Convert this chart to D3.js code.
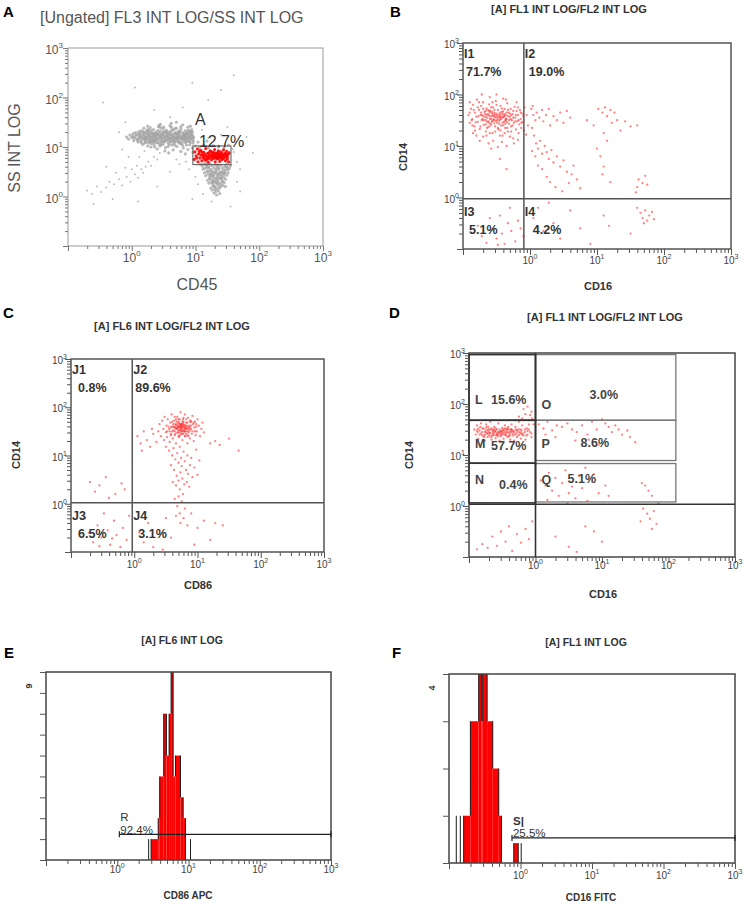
<!DOCTYPE html>
<html><head><meta charset="utf-8">
<script src="https://cdn.jsdelivr.net/npm/d3@7"></script>
<style>body{margin:0;background:#fff}svg{display:block}text{font-family:"Liberation Sans",Arial,Helvetica,sans-serif}</style>
</head><body>
<svg id="chart" width="753" height="907"></svg>
<script>
// ===== DATA (log10 exponents in hundredths: "x,y") =====
const tickExponents = [0, 1, 2, 3];

const aGrayMain = "-8,120 -5,116 -3,124 0,119 2,127 3,113 5,121 6,129 8,116 9,124 10,110 11,131 12,119 13,126 14,112 15,133 16,118 17,105 18,124 19,138 20,115 21,128 22,109 23,121 24,134 25,102 26,117 27,125 28,113 29,139 30,120 31,107 32,129 33,116 34,135 35,123 36,100 37,112 38,130 39,118 40,126 41,108 42,141 43,121 44,114 45,132 46,104 47,125 48,117 49,137 50,110 51,128 52,120 53,99 54,134 55,115 56,123 57,108 58,130 59,118 60,143 61,112 62,126 63,104 64,121 65,135 66,116 67,128 68,110 69,122 70,138 71,101 72,119 73,131 74,113 75,125 76,107 77,136 78,120 79,114 80,129 81,98 82,123 83,117 84,133 85,109 86,126 87,120 88,140 89,112 90,127 91,104 92,118 93,131 94,115 95,124 96,108 97,120 14,121 17,129 20,108 23,116 26,131 29,111 32,122 35,104 38,117 41,133 44,107 47,119 50,131 53,114 56,127 59,105 62,118 65,124 68,137 71,115 74,122 77,109 80,118 83,126 86,113 89,121 92,109 95,130 16,115 19,123 22,130 25,111 28,119 31,126 34,114 37,122 40,113 43,128 46,118 49,124 52,111 55,121 58,116 61,131 64,113 67,120 70,127 73,118 76,130 79,122 82,110 85,119 88,125 91,116 94,121 97,112 24,120 30,115 36,121 42,117 48,112 54,122 60,118 66,111 72,125 78,116 84,122 27,123 33,118 39,124 45,121 51,116 57,119 63,124 69,117 75,119 81,121 87,117 21,118 46,125 58,123 70,120 82,116 35,127 61,110 74,109 90,119 93,124 40,96 52,92 65,94 77,91 88,95 96,89 84,86 58,88 30,100 95,98 25,142 45,146 62,148 80,145 92,142 70,150 1,122 4,118 7,125 9,113 12,128 15,109 18,131 21,113 24,126 27,108 30,133 33,111 36,127 39,109 42,124 45,139 48,106 51,122 54,129 57,113 60,125 63,134 66,107 69,129 72,111 75,132 78,106 81,126 84,113 87,130 90,111 93,126 96,117 11,117 19,119 28,128 37,115 46,111 55,131 64,117 73,127 82,120 91,131 13,122 31,112 49,129 67,113 85,128 26,135 44,102 62,140 80,103 94,135 50,140 35,109 68,103 86,104 57,101 43,143 77,141 89,134";
const aGrayLow = "108,65 111,61 113,66 115,57 117,63 119,52 121,60 123,66 124,55 126,62 128,49 129,58 131,64 133,53 134,60 136,46 137,56 139,63 141,50 142,58 144,44 146,61 147,53 149,66 151,48 153,57 155,62 114,48 116,42 118,50 120,45 122,38 124,47 126,41 127,34 129,44 131,37 132,49 134,40 135,31 137,43 139,36 140,46 142,30 144,39 145,48 147,35 149,43 151,54 119,33 121,27 123,35 125,29 127,24 128,31 130,21 132,28 133,34 135,23 137,27 138,18 140,25 142,32 143,22 145,28 147,20 124,17 126,13 128,20 130,14 132,10 134,16 136,12 138,6 129,7 133,3 120,58 126,52 132,55 138,50 144,54 128,40 136,37 140,41 130,30 125,44 134,45 146,48 100,102 106,99 113,104 120,98 128,103 136,100 145,99 152,104 104,110 118,112 112,55 118,60 123,42 130,48 136,58 141,37 148,58 127,28 134,27 139,20 131,18 122,51 143,48 150,60 116,66 135,64";
const aGraySparse = "-70,12 -62,5 -55,20 -48,9 -40,18 -35,30 -28,25 -20,35 -15,22 -8,40 -2,30 5,45 10,38 15,55 18,48 22,60 26,70 30,62 35,80 40,75 44,88 8,62 0,55 -10,58 -25,48 12,80 20,92 -5,80 -30,-5 -60,-15 10,-10 40,20 60,50 75,65 90,55 100,40 104,25 112,5 160,90 165,70 170,55 158,96 175,105 180,120 190,88 120,118 140,125 110,135 150,140 60,160 80,180 35,175 -10,150 5,220 95,230 160,245 140,215 120,195 -45,190 -20,130 165,30 170,10 125,-10 155,-20 95,-5 50,105 -15,95 70,75 85,70 -40,60";
const aRedGate = "98,75 99,90 101,82 103,96 104,70 105,86 107,78 108,93 110,72 111,84 113,89 114,76 116,97 117,81 119,87 120,69 122,79 123,92 125,74 126,84 127,89 128,77 130,95 131,70 132,82 133,87 134,76 136,92 137,80 138,71 139,85 140,90 141,75 143,83 144,94 145,78 146,87 147,72 148,81 149,91 150,76 151,85 152,70 153,88 102,78 106,91 109,84 112,79 115,85 118,76 121,88 124,82 126,79 128,86 129,81 130,88 131,78 132,84 133,80 134,85 135,82 136,77 137,86 138,83 139,79 140,82 141,87 142,80 143,76 145,84 127,83 125,90 122,84 119,80 116,73 113,82 110,90 148,85 150,80 135,89 120,76";
const aGate = {x0: 9.1, x1: 36, y0: 4.4, y1: 10.5, name: "A", pct: "12.7%"};

const bRed = "-92,160 -90,145 -88,172 -86,152 -85,180 -83,138 -82,165 -80,157 -79,190 -78,147 -76,170 -75,133 -74,160 -73,178 -72,150 -70,185 -69,141 -68,166 -67,156 -66,128 -65,173 -64,147 -63,162 -62,137 -61,181 -60,153 -59,168 -58,143 -57,158 -56,125 -55,175 -54,150 -53,164 -52,138 -51,187 -50,156 -49,145 -48,170 -47,132 -46,161 -45,151 -44,178 -43,140 -42,166 -41,120 -40,155 -39,147 -38,172 -37,135 -36,160 -35,152 -34,183 -33,128 -32,165 -31,143 -30,157 -29,172 -28,138 -27,150 -26,162 -25,115 -24,145 -23,176 -22,155 -21,132 -20,168 -19,148 -18,160 -17,125 -16,142 -15,170 -14,152 -13,135 -12,163 -11,147 -10,158 -70,158 -66,150 -62,160 -58,152 -54,158 -50,163 -46,148 -42,156 -38,162 -34,146 -64,155 -60,165 -56,149 -52,156 -48,153 -44,161 -40,167 -36,153 -57,163 -53,144 -49,160 -45,165 -41,145 -37,150 -33,158 -61,145 -67,162 -71,152 -63,170 -59,140 -55,160 -51,149 -47,157 -43,152 -39,158 -35,165 -31,150 -28,160 -25,155 -22,148 -80,120 -75,110 -70,118 -62,105 -55,110 -48,98 -42,108 -35,100 -30,118 -24,105 -18,112 -58,95 -45,120 -38,125 -52,128 -65,120 -85,125 -72,200 -60,195 -50,200 -40,192 -20,185 -8,175 -5,160 -3,140 -6,122 -9,130 -45,75 -35,55 -90,165 -87,150 -84,170 -81,146 -77,158 -73,165 -69,150 -65,160 -61,168 -57,147 -53,170 -49,150 -45,157 -41,162 -37,143 -33,170 -29,152 -25,168 -21,160 -17,150 -13,145 -78,175 -74,138 -66,142 -58,175 -50,180 -42,173 -34,135 -26,140 -18,175 -86,140 -62,148 -54,152 -46,143 -38,158 -30,163 -70,172 -82,130 -60,125 -44,130 -28,128 -14,165 -90,185 -76,185 -56,185 -36,190 -64,135 -48,135 -40,140 -52,161 -56,166 -44,155 -36,148 -60,158 -66,168 -72,160 2,172 5,160 8,150 4,178 10,165 14,155 18,170 20,148 24,160 28,172 30,140 35,158 40,150 45,165 50,145 55,168 60,155 3,135 6,120 9,105 12,95 15,110 18,85 22,100 25,88 28,75 32,92 35,68 40,80 45,60 50,72 55,50 3,90 8,80 12,62 18,55 25,40 30,30 38,20 48,12 58,28 62,45 65,62 70,35 75,18 85,150 95,140 102,172 108,165 112,175 115,158 120,170 122,145 126,165 130,150 135,130 142,148 150,138 160,140 110,125 115,110 100,95 105,80 110,60 108,45 120,30 160,20 162,35 168,28 172,42 158,10 175,25 -85,-30 -78,-55 -72,-75 -65,-88 -60,-40 -55,-62 -50,-80 -45,-35 -42,-70 -38,-90 -33,-50 -28,-65 -22,-85 -18,-45 -14,-60 -10,-75 -48,-92 -30,-20 5,-40 12,-20 20,-65 28,-10 35,-50 45,-80 60,-25 75,-60 90,-90 110,-35 118,-55 150,-70 165,-30 168,-40 172,-25 175,-45 178,-35 182,-28 170,-50 185,-42 160,-20";
const bGate = {x: 0.81, y: 0.95};
const bQuadNames = ["I1", "I2", "I3", "I4"];
const bQuadPct = ["71.7%", "19.0%", "5.1%", "4.2%"];

const cRed = "38,150 40,165 42,140 44,172 46,155 47,132 48,180 50,148 51,162 52,138 53,175 55,155 56,128 57,168 58,145 59,185 60,160 61,135 62,152 63,172 64,142 65,165 66,125 67,157 68,180 69,147 70,170 71,138 72,160 73,190 74,152 75,165 76,132 77,175 78,145 79,160 80,185 81,140 82,168 83,155 84,125 85,178 86,148 87,162 88,135 89,172 90,155 91,145 92,182 93,165 94,130 95,158 96,170 97,142 98,160 99,150 100,175 102,162 104,140 106,155 108,168 110,148 60,150 63,158 66,162 68,155 70,160 72,148 74,165 76,158 78,152 80,163 82,150 84,157 86,160 88,152 65,145 67,170 69,158 71,152 73,162 75,155 77,160 79,150 81,155 83,162 85,150 70,140 72,175 76,145 78,170 80,140 82,175 74,158 73,155 75,150 77,166 71,167 62,165 58,158 56,150 90,162 92,150 94,168 64,180 86,140 88,170 62,160 66,155 68,165 70,152 72,158 74,162 76,150 78,164 80,158 82,145 84,168 86,155 68,148 72,142 76,170 80,150 64,150 88,158 90,170 60,170 58,142 96,150 98,165 54,160 52,150 66,175 78,178 84,142 74,145 70,175 82,160 76,162 72,165 79,155 65,158 69,162 50,118 55,110 60,100 62,115 65,92 68,105 70,85 72,118 74,95 75,78 78,108 80,88 82,70 84,100 85,62 88,80 90,95 92,55 95,75 98,112 100,60 103,90 58,80 63,70 67,58 70,48 73,65 76,52 79,40 83,45 87,35 61,45 66,38 72,30 77,20 64,10 68,-5 70,15 72,-20 75,5 78,-30 80,-10 84,-45 73,-40 66,-25 5,140 10,125 15,150 20,132 25,118 30,145 35,128 12,110 28,155 -70,45 -55,38 -45,55 -30,20 -20,42 -62,25 -40,12 -15,30 120,125 128,130 135,122 150,135 165,110 -78,-30 -72,-60 -65,-80 -58,-45 -52,-70 -48,-20 -42,-55 -38,-85 -32,-35 -28,-65 -22,-90 -18,-50 -12,-75 -8,-25 -55,-88 -35,-72 8,-60 15,-80 22,-40 30,-90 40,-55 50,-30 58,-70 90,-20 100,-50 110,-35 120,-75 128,-40 140,-45 95,-85 45,-95";
const cGate = {x: 0.93, y: 1.05};
const cQuadNames = ["J1", "J2", "J3", "J4"];
const cQuadPct = ["0.8%", "89.6%", "6.5%", "3.1%"];

const dRed = "-92,150 -90,140 -88,158 -86,132 -84,148 -82,162 -80,138 -78,152 -76,128 -75,145 -74,160 -72,135 -70,150 -69,142 -68,165 -66,130 -65,148 -64,138 -62,155 -61,145 -60,133 -58,150 -57,140 -56,162 -54,128 -53,146 -52,137 -50,153 -49,143 -48,132 -46,158 -45,140 -44,148 -42,135 -41,155 -40,144 -38,130 -37,150 -36,160 -34,138 -33,147 -32,128 -30,155 -29,142 -28,135 -26,150 -25,165 -24,140 -22,132 -21,148 -20,158 -18,138 -16,145 -15,130 -13,152 -12,140 -10,160 -8,145 -6,135 -5,172 -80,145 -76,140 -72,148 -68,143 -66,152 -64,145 -62,140 -60,147 -58,143 -56,137 -54,150 -52,145 -50,140 -48,148 -46,145 -44,138 -42,145 -40,150 -38,141 -36,145 -70,138 -74,150 -67,135 -63,150 -59,138 -55,145 -51,148 -47,140 -43,152 -39,137 -35,148 -31,140 -27,145 -23,150 -19,142 -73,143 -71,155 -77,135 -83,155 -87,145 -20,172 -15,180 -10,168 -6,185 -8,178 -25,175 -18,190 -12,195 -30,168 -3,160 -88,148 -84,140 -80,152 -76,146 -72,141 -68,150 -64,142 -60,152 -56,145 -52,140 -48,150 -44,143 -40,138 -36,150 -32,145 -28,148 -24,145 -20,140 -16,150 -12,147 -78,138 -70,145 -62,148 -54,142 -46,152 -38,146 -30,150 -22,143 -14,138 -66,138 -58,140 -50,146 -42,150 -34,142 -26,138 -74,155 -82,142 -86,152 -10,150 -6,142 5,160 12,152 18,165 25,148 32,158 40,155 48,162 55,150 62,145 70,158 78,140 85,165 92,150 100,170 105,162 110,155 115,145 120,158 125,150 130,140 138,148 142,135 150,125 95,120 80,130 60,128 30,135 15,140 8,50 15,40 20,65 25,30 30,55 35,20 40,45 45,70 50,25 55,38 60,15 65,60 70,35 78,10 85,48 95,25 105,40 110,20 75,75 88,62 48,5 18,12 160,45 165,40 170,30 175,20 162,-5 168,-15 172,-25 178,-10 182,-35 175,-45 158,-30 185,5 -88,-85 -80,-75 -72,-82 -65,-60 -58,-78 -52,-50 -45,-70 -40,-40 -35,-88 -28,-55 -22,-72 -15,-45 -10,-65 -5,-30 30,-60 50,-80 62,-90 88,-50 100,-70 75,-40";
const dSplitX = 1, dRightX = 129, dTopY = 930, dFullY = 1.08;
const dLeftRows = [[48, 930], [6.9, 48], [1.15, 6.9]];
const dRightRows = [[48, 930], [7.8, 48], [1.2, 6.8]];
const dNames = ["L", "M", "N", "O", "P", "Q"];
const dPct = ["15.6%", "57.7%", "0.4%", "3.0%", "8.6%", "5.1%"];

const eBinEdges = [0.475, 0.575, 0.596, 0.652, 0.69, 0.728, 0.756, 0.784, 0.817, 0.887, 0.925, 0.958];
const eCounts = [1, 2, 4, 7, 5, 7, 9, 4, 5, 3, 2];
const eSpikes = [[0.441, 1], [1.028, 1]];
const eGate = {x0: 1.07, x1: 1000, level: 1.23, name: "R", pct: "92.4%"};

const fBinEdges = [-0.795, -0.701, -0.585, -0.547, -0.529, -0.467, -0.388, -0.304, -0.266];
const fCounts = [1, 3, 4, 3, 4, 3, 2, 1];
const fExtraBins = [[-0.094, -0.032, 0.42]];
const fSpikes = [[-0.898, 1], [-0.842, 1], [0.01, 0.42]];
const fGate = {x0: 0.76, x1: 1000, level: 0.53, name: "S|", pct: "25.5%"};

// ===== DRAWING =====
const svg = d3.select("#chart");
const pts = s => s.trim().split(/\s+/).map(p => { const a = p.split(","); return [Math.pow(10, +a[0] / 100), Math.pow(10, +a[1] / 100)]; });
function logTickValues() { const t = []; for (let k = -1; k < 3; k++) for (let m = 1; m < 10; m++) t.push(m * Math.pow(10, k)); t.push(1000); return t; }
const isMajor = v => Math.abs(Math.log10(v) - Math.round(Math.log10(v))) < 1e-6;

function supLabel(g, x, y, e, st, anchor) {
  const t = g.append("text").attr("x", x).attr("y", y).attr("text-anchor", anchor)
    .attr("font-size", st.fs).attr("fill", st.color).attr("font-weight", st.fw || "normal");
  t.append("tspan").text("10");
  t.append("tspan").attr("font-size", st.sup).attr("dy", -st.raise).text(e);
}
function bottomLogAxis(g, x, yPos, st) {
  const ax = g.append("g").attr("transform", `translate(0,${yPos})`)
    .call(d3.axisBottom(x).tickValues(logTickValues()).tickFormat("").tickSizeOuter(0));
  ax.select(".domain").remove(); ax.selectAll(".tick text").remove();
  ax.selectAll(".tick line").attr("y2", d => isMajor(d) ? st.major : st.minor).attr("stroke", st.tick).attr("stroke-width", st.tw);
  tickExponents.forEach(e => supLabel(g, x(Math.pow(10, e)) + (st.dx || 0), yPos + st.ly, e, st, "middle"));
}
function leftLogAxis(g, y, xPos, st) {
  const ax = g.append("g").attr("transform", `translate(${xPos},0)`)
    .call(d3.axisLeft(y).tickValues(logTickValues()).tickFormat("").tickSizeOuter(0));
  ax.select(".domain").remove(); ax.selectAll(".tick text").remove();
  ax.selectAll(".tick line").attr("x2", d => isMajor(d) ? -st.major : -st.minor).attr("stroke", st.tick).attr("stroke-width", st.tw);
  tickExponents.forEach(e => supLabel(g, xPos - st.lx, y(Math.pow(10, e)) + st.ly, e, st, "end"));
}
function txt(g, x, y, s, o) {
  const t = g.append("text").attr("x", x).attr("y", y).text(s)
    .attr("font-size", o.fs).attr("fill", o.color || "#222").attr("font-weight", o.fw || "normal")
    .attr("text-anchor", o.anchor || "start");
  if (o.rot) t.attr("transform", `rotate(-90,${x},${y})`);
  return t;
}
function dots(g, x, y, data, r, color, op) {
  g.append("g").selectAll("circle").data(data).join("circle")
    .attr("cx", d => x(d[0])).attr("cy", d => y(d[1])).attr("r", r).attr("fill", color).attr("fill-opacity", op);
}
function frame(g, L, color, w) {
  g.append("rect").attr("x", L.x0).attr("y", L.y0).attr("width", L.x1 - L.x0).attr("height", L.y1 - L.y0)
    .attr("fill", "none").attr("stroke", color).attr("stroke-width", w);
}
function scatterScales(L) {
  return [d3.scaleLog().domain([0.1, 1000]).range([L.x0, L.x1]), d3.scaleLog().domain([0.1, 1000]).range([L.y1, L.y0])];
}
const axSt = {fs: 10, sup: 7, raise: 5, color: "#444", tick: "#555", tw: 1, major: 6, minor: 4, lx: 4, ly: 5, fw: "normal"};

// ---------- Panel A ----------
(function () {
  const L = {x0: 68, x1: 323, y0: 48, y1: 246};
  const g = svg.append("g"); const [x, y] = scatterScales(L);
  dots(g, x, y, pts(aGraySparse), 1.0, "#a0a0a0", 0.7);
  dots(g, x, y, pts(aGrayMain), 1.6, "#a3a3a3", 0.75);
  dots(g, x, y, pts(aGrayLow), 1.6, "#a3a3a3", 0.75);
  dots(g, x, y, pts(aRedGate), 1.6, "#ff0000", 0.9);
  frame(g, L, "#999", 1);
  g.append("rect").attr("x", x(aGate.x0)).attr("y", y(aGate.y1)).attr("width", x(aGate.x1) - x(aGate.x0))
    .attr("height", y(aGate.y0) - y(aGate.y1)).attr("fill", "none").attr("stroke", "#555").attr("stroke-width", 1);
  txt(g, x(aGate.x0) + 2, y(aGate.y1) - 21, aGate.name, {fs: 16, color: "#333"});
  txt(g, x(aGate.x0) + 6, y(aGate.y1) + 1, aGate.pct, {fs: 16, color: "#333"});
  const st = {fs: 12, sup: 8, raise: 6, color: "#555", tick: "#777", tw: 1, major: 5, minor: 3, lx: 5, ly: 6};
  bottomLogAxis(g, x, L.y1, Object.assign({}, st, {ly: 16}));
  leftLogAxis(g, y, L.x0, st);
  txt(g, 40, 23, "[Ungated] FL3 INT LOG/SS INT LOG", {fs: 16, color: "#555"});
  txt(g, 3, 17, "A", {fs: 15, fw: "bold", color: "#000"});
  txt(g, 20, 148, "SS INT LOG", {fs: 16, color: "#555", anchor: "middle", rot: true});
  txt(g, 197, 290, "CD45", {fs: 16, color: "#555", anchor: "middle"});
})();

// ---------- Quadrant panels B, C ----------
function quadPanel(cfg) {
  const L = cfg.L; const g = svg.append("g"); const [x, y] = scatterScales(L);
  dots(g, x, y, pts(cfg.data), 1.15, "#ff1a1a", 0.55);
  frame(g, L, "#555", 1.5);
  g.append("line").attr("x1", x(cfg.gate.x)).attr("x2", x(cfg.gate.x)).attr("y1", L.y0).attr("y2", L.y1).attr("stroke", "#555").attr("stroke-width", 1.5);
  g.append("line").attr("x1", L.x0).attr("x2", L.x1).attr("y1", y(cfg.gate.y)).attr("y2", y(cfg.gate.y)).attr("stroke", "#555").attr("stroke-width", 1.5);
  const gx = x(cfg.gate.x), gy = y(cfg.gate.y);
  const o = {fs: 12.5, fw: "bold", color: "#333"};
  txt(g, L.x0 + 1, L.y0 + 15, cfg.names[0], o); txt(g, L.x0 + cfg.px1, L.y0 + 33, cfg.pct[0], o);
  txt(g, gx + 1, L.y0 + 15, cfg.names[1], o); txt(g, gx + cfg.px2, L.y0 + 33, cfg.pct[1], o);
  txt(g, L.x0 + 1, gy + 17, cfg.names[2], o); txt(g, L.x0 + cfg.px3, gy + 35, cfg.pct[2], o);
  txt(g, gx + 1, gy + 17, cfg.names[3], o); txt(g, gx + cfg.px4, gy + 35, cfg.pct[3], o);
  bottomLogAxis(g, x, L.y1, Object.assign({}, axSt, {ly: cfg.xly}));
  leftLogAxis(g, y, L.x0, axSt);
  txt(g, cfg.title[0], cfg.title[1], cfg.title[2], {fs: 11, fw: "bold", color: "#333", anchor: "middle"});
  txt(g, cfg.letter[0], cfg.letter[1], cfg.letter[2], {fs: 15, fw: "bold", color: "#000"});
  txt(g, cfg.ylab[0], cfg.ylab[1], "CD14", {fs: 11, fw: "bold", color: "#333", anchor: "middle", rot: true});
  txt(g, cfg.xlab[0], cfg.xlab[1], cfg.xlab[2], {fs: 11, fw: "bold", color: "#333", anchor: "middle"});
}
quadPanel({L: {x0: 463, x1: 731, y0: 43, y1: 249}, data: bRed, gate: bGate, names: bQuadNames, pct: bQuadPct,
  px1: 3, px2: 5, px3: 6, px4: 9, xly: 15,
  title: [569, 13, "[A] FL1 INT LOG/FL2 INT LOG"], letter: [390, 17, "B"], ylab: [407, 157], xlab: [598, 290, "CD16"]});
quadPanel({L: {x0: 71, x1: 324, y0: 359, y1: 552}, data: cRed, gate: cGate, names: cQuadNames, pct: cQuadPct,
  px1: 7, px2: 3, px3: 7, px4: 6, xly: 16,
  title: [172, 330, "[A] FL6 INT LOG/FL2 INT LOG"], letter: [3, 318, "C"], ylab: [20, 455], xlab: [198, 589, "CD86"]});

// ---------- Panel D ----------
(function () {
  const L = {x0: 469, x1: 735, y0: 353, y1: 557};
  const g = svg.append("g"); const [x, y] = scatterScales(L);
  dots(g, x, y, pts(dRed), 1.15, "#ff1a1a", 0.55);
  frame(g, L, "#444", 1.5);
  dRightRows.forEach(r => g.append("rect").attr("x", x(dSplitX)).attr("y", y(r[1])).attr("width", x(dRightX) - x(dSplitX))
    .attr("height", y(r[0]) - y(r[1])).attr("fill", "none").attr("stroke", "#777").attr("stroke-width", 1.3));
  dLeftRows.forEach(r => g.append("rect").attr("x", L.x0).attr("y", y(r[1])).attr("width", x(dSplitX) - L.x0)
    .attr("height", y(r[0]) - y(r[1])).attr("fill", "none").attr("stroke", "#333").attr("stroke-width", 1.6));
  g.append("line").attr("x1", L.x0).attr("x2", L.x1).attr("y1", y(dFullY)).attr("y2", y(dFullY)).attr("stroke", "#333").attr("stroke-width", 1.6);
  g.append("line").attr("x1", x(dSplitX)).attr("x2", x(dSplitX)).attr("y1", L.y0).attr("y2", L.y1).attr("stroke", "#333").attr("stroke-width", 1.6);
  const o = {fs: 12.5, fw: "bold", color: "#444"};
  const gx = x(dSplitX);
  const rowY = [404, 448, 484];
  [0, 1, 2].forEach(i => { txt(g, L.x0 + 6, rowY[i], dNames[i], o); });
  txt(g, L.x0 + 22, 404, dPct[0], o); txt(g, L.x0 + 22, 450, dPct[1], o); txt(g, L.x0 + 30, 489, dPct[2], o);
  txt(g, gx + 6, 409, dNames[3], o); txt(g, gx + 6, 448, dNames[4], o); txt(g, gx + 6, 484, dNames[5], o);
  txt(g, gx + 54, 399, dPct[3], o); txt(g, gx + 45, 447, dPct[4], o); txt(g, gx + 32, 483, dPct[5], o);
  bottomLogAxis(g, x, L.y1, Object.assign({}, axSt, {ly: 12}));
  leftLogAxis(g, y, L.x0, axSt);
  txt(g, 605, 321, "[A] FL1 INT LOG/FL2 INT LOG", {fs: 11, fw: "bold", color: "#333", anchor: "middle"});
  txt(g, 389, 318, "D", {fs: 15, fw: "bold", color: "#000"});
  txt(g, 413, 455, "CD14", {fs: 11, fw: "bold", color: "#333", anchor: "middle", rot: true});
  txt(g, 603, 598, "CD16", {fs: 11, fw: "bold", color: "#333", anchor: "middle"});
})();

// ---------- Histograms E, F ----------
function histPanel(cfg) {
  const L = cfg.L; const g = svg.append("g");
  const x = d3.scaleLog().domain([0.1, 1000]).range([L.x0, L.x1]);
  const y = d3.scaleLinear().domain([0, cfg.ymax]).range([L.y1, L.y0]);
  const clipId = "clip" + cfg.letter[2];
  g.append("clipPath").attr("id", clipId).append("rect").attr("x", L.x0).attr("y", L.y0).attr("width", L.x1 - L.x0).attr("height", L.y1 - L.y0);
  const hg = g.append("g").attr("clip-path", `url(#${clipId})`);
  const bins = cfg.counts.map((c, i) => [cfg.edges[i], cfg.edges[i + 1], c]).concat(cfg.extra || []);
  hg.selectAll("rect.bin").data(bins).join("rect").attr("class", "bin")
    .attr("x", d => x(Math.pow(10, d[0]))).attr("width", d => x(Math.pow(10, d[1])) - x(Math.pow(10, d[0])))
    .attr("y", d => y(d[2])).attr("height", d => y(0) - y(d[2])).attr("fill", "#ff0000");
  const risers = [];
  cfg.edges.forEach((e, i) => { const a = i > 0 ? cfg.counts[i - 1] : 0, b = i < cfg.counts.length ? cfg.counts[i] : 0; risers.push([e, Math.min(a, b), Math.max(a, b)]); });
  (cfg.extra || []).forEach(d => { risers.push([d[0], 0, d[2]]); risers.push([d[1], 0, d[2]]); });
  cfg.spikes.forEach(s => risers.push([s[0], 0, s[1]]));
  hg.selectAll("line.r").data(risers).join("line").attr("class", "r")
    .attr("x1", d => x(Math.pow(10, d[0]))).attr("x2", d => x(Math.pow(10, d[0])))
    .attr("y1", d => y(d[1])).attr("y2", d => y(d[2])).attr("stroke", "#1a1a1a").attr("stroke-width", 1);
  frame(g, L, "#444", 1.5);
  const gy = y(cfg.gate.level);
  g.append("line").attr("x1", x(cfg.gate.x0)).attr("x2", x(cfg.gate.x1)).attr("y1", gy).attr("y2", gy).attr("stroke", "#222").attr("stroke-width", 1.2);
  [cfg.gate.x0, cfg.gate.x1].forEach(v => g.append("line").attr("x1", x(v)).attr("x2", x(v)).attr("y1", gy - 3).attr("y2", gy + 3).attr("stroke", "#222").attr("stroke-width", 1.2));
  txt(g, x(cfg.gate.x0) + 1, gy - 13, cfg.gate.name, {fs: 11.5, color: "#333", fw: cfg.gateFw || "normal"});
  txt(g, x(cfg.gate.x0) + 1, gy - 0.5, cfg.gate.pct, {fs: 11.5, color: "#333"});
  const ay = g.append("g").attr("transform", `translate(${L.x0},0)`)
    .call(d3.axisLeft(y).tickValues(d3.range(0, cfg.ymax + 1)).tickFormat("").tickSize(6).tickSizeOuter(0));
  ay.select(".domain").remove(); ay.selectAll(".tick text").remove();
  ay.selectAll(".tick line").attr("stroke", "#555");
  txt(g, L.x0 - 14, L.y0 + 14, String(cfg.ymax), {fs: 9, fw: "bold", color: "#333", anchor: "middle", rot: true});
  bottomLogAxis(g, x, L.y1, Object.assign({}, axSt, {ly: cfg.xly}));
  txt(g, cfg.title[0], cfg.title[1], cfg.title[2], {fs: 10.5, fw: "bold", color: "#333", anchor: "middle"});
  txt(g, cfg.letter[0], cfg.letter[1], cfg.letter[2], {fs: 15, fw: "bold", color: "#000"});
  txt(g, cfg.xlab[0], cfg.xlab[1], cfg.xlab[2], {fs: 10, fw: "bold", color: "#333", anchor: "middle"});
}
histPanel({L: {x0: 46, x1: 331, y0: 672, y1: 860}, ymax: 9, edges: eBinEdges, counts: eCounts, spikes: eSpikes, gate: eGate, xly: 13,
  title: [182, 644, "[A] FL6 INT LOG"], letter: [4, 658, "E"], xlab: [188, 899, "CD86 APC"]});
histPanel({L: {x0: 449, x1: 735, y0: 674, y1: 863}, ymax: 4, edges: fBinEdges, counts: fCounts, extra: fExtraBins, spikes: fSpikes, gate: fGate, xly: 16, gateFw: "bold",
  title: [586, 646, "[A] FL1 INT LOG"], letter: [392, 658, "F"], xlab: [591, 901, "CD16 FITC"]});
</script>
</body></html>
